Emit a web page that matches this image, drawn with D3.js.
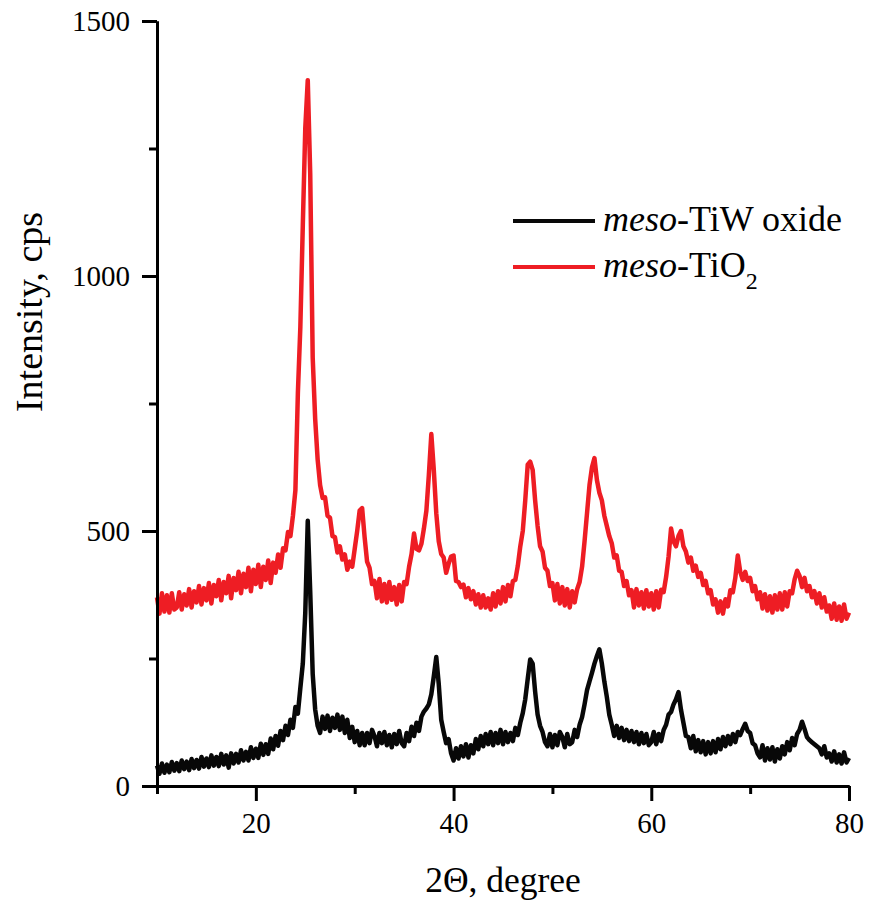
<!DOCTYPE html>
<html lang="en">
<head>
<meta charset="UTF-8">
<title>XRD patterns: meso-TiW oxide and meso-TiO2</title>
<script src="https://d3js.org/d3.v7.min.js"></script>
<style>
  body { margin: 0; background: #fff; }
  .axis path, .axis line { stroke: #000; stroke-width: 3px; }
  .trace { fill: none; stroke-width: 4.5px; stroke-linejoin: round; }
</style>
</head>
<body>
<div id="chart"></div>
<script>
const serif = "'Liberation Serif', 'Times New Roman', Times, serif";

// 2-theta sampling of the scans (degrees)
const angleStart = 10, angleStep = 0.25;

// meso-TiW oxide, cps, one row per degree (x.00, x.25, x.50, x.75)
const tiwOxide = [
  40, 24, 44, 26,      // 10
  42, 27, 47, 30,
  45, 29, 50, 33,
  48, 31, 53, 35,
  51, 34, 57, 38,
  54, 37, 60, 40,      // 15
  57, 39, 63, 42,
  60, 36, 64, 44,
  63, 46, 70, 50,
  67, 50, 76, 55,
  73, 55, 83, 61,      // 20
  82, 63, 93, 72,
  98, 79, 108, 90,
  118, 100, 130, 114,
  155, 142, 192, 240,
  340, 520, 380, 220,  // 25
  150, 118, 104, 136,
  112, 138, 108, 134,
  114, 140, 110, 136,
  104, 130, 94, 116,
  86, 108, 80, 104,    // 30
  80, 104, 84, 110,
  98, 78, 104, 84,
  106, 80, 100, 76,
  102, 82, 108, 84,
  78, 104, 88, 116,    // 35
  98, 124, 108, 136,
  146, 152, 160, 180,
  215, 253, 200, 130,
  106, 84, 92, 64,
  50, 74, 54, 78,      // 40
  58, 82, 56, 80,
  64, 92, 72, 98,
  78, 102, 82, 106,
  80, 104, 84, 110,
  82, 106, 86, 104,    // 45
  88, 114, 100, 124,
  143, 170, 210, 248,
  240, 185, 140, 118,
  106, 86, 78, 102,
  76, 100, 80, 106,    // 50
  96, 76, 102, 82,
  86, 110, 96, 120,
  135, 160, 188, 205,
  222, 240, 255, 268,
  240, 205, 175, 140,  // 55
  120, 98, 118, 94,
  114, 90, 110, 88,
  108, 86, 106, 82,
  104, 84, 102, 80,
  86, 106, 82, 102,    // 60
  88, 110, 120, 140,
  145, 160, 170, 184,
  150, 124, 98, 96,
  74, 98, 68, 90,
  66, 88, 62, 86,      // 65
  64, 88, 66, 92,
  72, 96, 78, 98,
  82, 102, 86, 106,
  100, 112, 122, 108,
  104, 84, 80, 64,     // 70
  56, 80, 50, 74,
  52, 76, 48, 72,
  54, 78, 62, 86,
  70, 94, 80, 102,
  110, 126, 112, 96,   // 75
  90, 86, 82, 78,
  74, 62, 78, 56,
  64, 48, 68, 46,
  62, 44, 66, 46,
  55                   // 80
];

// meso-TiO2, cps
const tio2 = [
  370, 338, 378, 342,      // 10
  374, 340, 378, 346,
  350, 380, 346, 376,
  354, 386, 350, 382,
  360, 392, 356, 388,
  364, 398, 358, 394,      // 15
  372, 404, 364, 400,
  378, 412, 368, 408,
  384, 420, 378, 416,
  390, 428, 382, 424,
  396, 434, 390, 430,      // 20
  404, 442, 398, 438,
  418, 454, 428, 466,
  462, 498, 490, 530,
  580, 770, 900, 1100,
  1290, 1384, 1200, 840,   // 25
  720, 640, 590, 565,
  566, 530, 526, 490,
  488, 458, 470, 444,
  454, 424, 440, 430,
  465, 500, 540, 545,      // 30
  488, 440, 428, 396,
  402, 368, 406, 362,
  396, 360, 400, 365,
  390, 356, 394, 362,
  400, 396, 430, 455,      // 35
  495, 465, 462, 475,
  505, 540, 610, 690,
  620, 535, 480, 455,
  448, 418, 436, 450,
  452, 402, 400, 390,      // 40
  395, 370, 388, 366,
  382, 356, 376, 350,
  374, 350, 368, 346,
  378, 352, 382, 358,
  390, 362, 394, 372,      // 45
  402, 404, 432, 470,
  500, 560, 630, 636,
  620, 560, 510, 470,
  460, 428, 422, 392,
  398, 364, 396, 358,      // 50
  390, 354, 386, 350,
  382, 360, 386, 400,
  430, 480, 535, 590,
  625, 643, 600, 575,
  560, 530, 510, 490,      // 55
  476, 448, 452, 422,
  420, 392, 402, 374,
  384, 350, 386, 354,
  380, 348, 384, 352,
  378, 346, 382, 350,      // 60
  385, 380, 410, 450,
  505, 480, 470, 490,
  500, 470, 460, 438,
  448, 422, 432, 410,
  418, 394, 402, 378,      // 65
  384, 356, 366, 340,
  362, 338, 366, 352,
  384, 380, 408, 452,
  420, 404, 420, 402,
  408, 382, 392, 366,      // 70
  380, 348, 376, 344,
  372, 340, 374, 346,
  378, 346, 380, 352,
  382, 378, 405, 422,
  412, 390, 408, 382,      // 75
  392, 370, 382, 358,
  378, 350, 370, 342,
  354, 328, 358, 326,
  352, 324, 356, 328,
  340                      // 80
];

const xMajorTicks = [20, 40, 60, 80];
const xMinorTicks = [10, 30, 50, 70];
const yMajorTicks = [0, 500, 1000, 1500];
const yMinorTicks = [250, 750, 1250];

const seriesNames = ["TiW oxide", "TiO"];
const seriesColors = ["#080808", "#ee1d24"];

// layout
const W = 869, H = 901;
const margin = {top: 21, right: 20, bottom: 115, left: 157};
const width = W - margin.left - margin.right,
      height = H - margin.top - margin.bottom;

const svg = d3.select("#chart").append("svg")
    .attr("width", W)
    .attr("height", H)
    .style("font-family", serif);

const g = svg.append("g")
    .attr("transform", `translate(${margin.left},${margin.top})`);

const x = d3.scaleLinear().domain([10, 80]).range([0, width]);
const y = d3.scaleLinear().domain([0, 1500]).range([height, 0]);

const toPoints = vals => vals.map((v, i) => [angleStart + i * angleStep, v]);

const line = d3.line()
    .x(d => x(d[0]))
    .y(d => y(d[1]));

// traces
g.append("path")
    .datum(toPoints(tio2))
    .attr("class", "trace")
    .attr("stroke", seriesColors[1])
    .attr("d", line);

g.append("path")
    .datum(toPoints(tiwOxide))
    .attr("class", "trace")
    .attr("stroke", seriesColors[0])
    .attr("d", line);

// axes
g.append("g")
    .attr("class", "axis")
    .attr("transform", `translate(0,${height})`)
    .call(d3.axisBottom(x).tickValues(xMajorTicks).tickSize(15).tickSizeOuter(0)
      .tickPadding(11).tickFormat(d3.format("d")));

g.append("g")
    .attr("class", "axis")
    .attr("transform", `translate(0,${height})`)
    .call(d3.axisBottom(x).tickValues(xMinorTicks).tickSize(8).tickSizeOuter(0).tickFormat(""));

g.append("g")
    .attr("class", "axis")
    .call(d3.axisLeft(y).tickValues(yMajorTicks).tickSize(15).tickSizeOuter(0)
      .tickPadding(12).tickFormat(d3.format("d")));

g.append("g")
    .attr("class", "axis")
    .call(d3.axisLeft(y).tickValues(yMinorTicks).tickSize(8).tickSizeOuter(0).tickFormat(""));

g.selectAll(".axis")
    .attr("font-family", serif)
    .attr("font-size", 29);
g.selectAll(".axis text")
    .style("font-family", serif)
    .style("font-size", "29px")
    .attr("fill", "#000");

// axis titles
svg.append("text")
    .attr("x", margin.left + width / 2)
    .attr("y", 892)
    .attr("text-anchor", "middle")
    .style("font-family", serif)
    .style("font-size", "35.5px")
    .text("2\u0398, degree");

svg.append("text")
    .attr("transform", "translate(42,312) rotate(-90)")
    .attr("text-anchor", "middle")
    .style("font-family", serif)
    .style("font-size", "38px")
    .text("Intensity, cps");

// legend
const legend = svg.append("g").attr("transform", "translate(513,221)");
seriesNames.forEach((name, i) => {
  const row = legend.append("g").attr("transform", `translate(0,${i * 46})`);
  row.append("line")
      .attr("x1", 0).attr("x2", 82)
      .attr("stroke", seriesColors[i])
      .attr("stroke-width", 4);
  const t = row.append("text")
      .attr("x", 90)
      .attr("y", 10)
      .style("font-family", serif)
      .style("font-size", "36px");
  t.append("tspan").attr("font-style", "italic").text("meso");
  t.append("tspan").text("-" + name);
  if (i === 1) {
    t.append("tspan").style("font-size", "24px").attr("dy", 12).text("2");
  }
});
</script>
</body>
</html>
